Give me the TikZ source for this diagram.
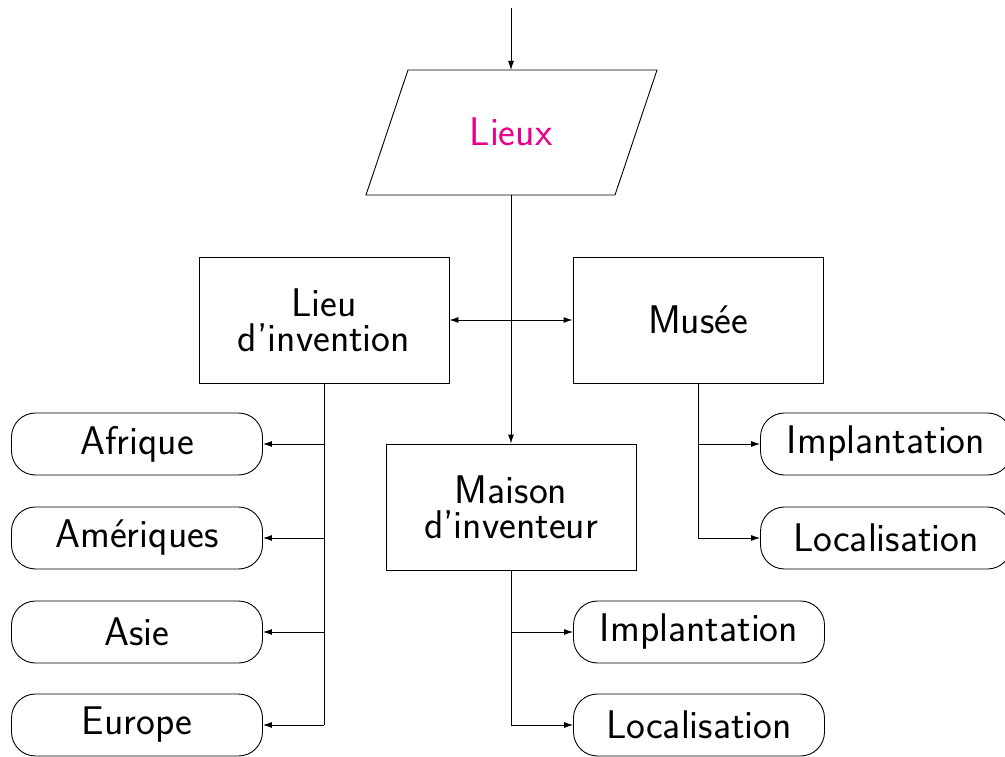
\documentclass[tikz,border=0pt]{standalone}
\usetikzlibrary{arrows.meta}
\definecolor{lieuxcol}{RGB}{232,0,140}
\begin{document}
\begin{tikzpicture}[x=1pt,y=-1pt,
  every node/.style={font=\fontsize{40}{35}\selectfont\sffamily, align=center},
  box/.style={draw, line width=0.9pt, minimum width=250pt, minimum height=126pt, inner sep=0pt},
  leaf/.style={draw, line width=0.9pt, minimum width=251pt, minimum height=62pt, inner sep=0pt, rounded corners=24pt},
  conn/.style={line width=0.9pt},
  arr/.style={conn, -{Latex[length=9pt,width=6pt]}},
  darr/.style={conn, {Latex[length=9pt,width=6pt]}-{Latex[length=9pt,width=6pt]}}]
\useasboundingbox (0,0) rectangle (1005,757);
% Lieux parallelogram
\coordinate (start) at (511,8);
\coordinate (lieuxtop) at (511,70);
\coordinate (lieuxbot) at (511,195);
\draw[line width=0.9pt] (408,70) -- (657,70) -- (615,195) -- (366,195) -- cycle;
\node[text=lieuxcol] (lieux) at (511,132) {Lieux};
% boxes
\node[box] (invention) at (324,320) {Lieu\\d'invention};
\node[box] (musee) at (698,320) {Musée};
\node[box] (maison) at (511,507) {Maison\\d'inventeur};
% left leaves
\node[leaf] (afrique) at (137,444) {Afrique};
\node[leaf] (ameriques) at (137,538) {Amériques};
\node[leaf] (asie) at (137,632) {Asie};
\node[leaf] (europe) at (137,725) {Europe};
% musee leaves
\node[leaf] (mimpl) at (886,444) {Implantation};
\node[leaf] (mloc) at (886,538) {Localisation};
% maison leaves
\node[leaf] (aimpl) at (699,632) {Implantation};
\node[leaf] (aloc) at (699,725) {Localisation};
% connectors
\draw[arr] (start) -- (lieuxtop);
\draw[arr] (lieuxbot) -- (maison.north);
\draw[darr] (invention.east) -- (musee.west);
\draw[conn] (invention.south) -- (invention.south |- europe.east);
\foreach \n in {afrique,ameriques,asie,europe}
  \draw[arr] (invention.south |- \n.east) -- (\n.east);
\draw[conn] (musee.south) -- (musee.south |- mloc.west);
\foreach \n in {mimpl,mloc}
  \draw[arr] (musee.south |- \n.west) -- (\n.west);
\draw[conn] (maison.south) -- (maison.south |- aloc.west);
\foreach \n in {aimpl,aloc}
  \draw[arr] (maison.south |- \n.west) -- (\n.west);
\end{tikzpicture}
\end{document}
